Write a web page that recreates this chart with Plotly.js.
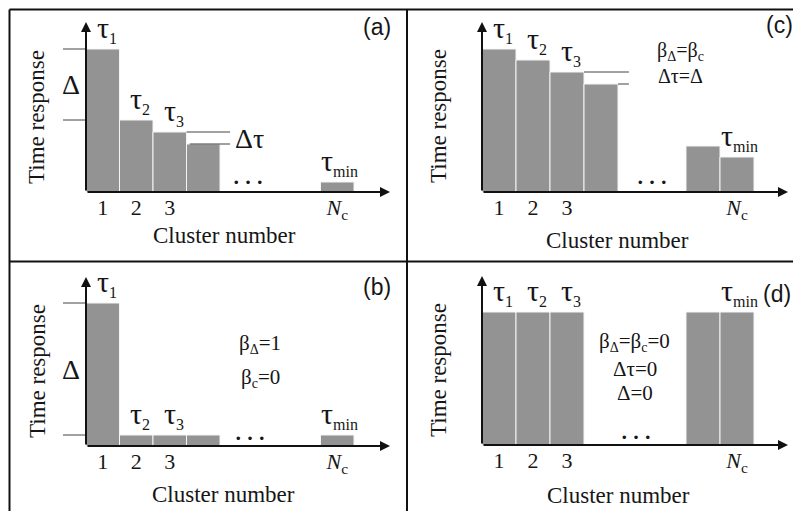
<!DOCTYPE html>
<html><head><meta charset="utf-8">
<script src="https://cdn.plot.ly/plotly-3.0.1.min.js"></script>
<style>html,body{margin:0;padding:0;background:#fff}</style>
</head><body><div id="chart" style="width:793px;height:511px"></div>
<script>
// ---- data ----
const clustersA = [1, 2, 3, 4, 8];
const timeA = [143, 72, 60, 48, 10];
const clustersB = [1, 2, 3, 4, 8];
const timeB = [143, 11, 11, 11, 11];
const clustersC = [1, 2, 3, 4, 7, 8];
const timeC = [143, 132, 120, 108, 46, 35];
const clustersD = [1, 2, 3, 7, 8];
const timeD = [133, 133, 133, 133, 133];
const tickVals = [1, 2, 3, 8];
const tickText = ['1', '2', '3', '<i>N</i><sub>c</sub>'];
const tauSubs = ['1', '2', '3', 'min'];
const panelTags = ['(a)', '(b)', '(c)', '(d)'];
const yTitle = 'Time response';
const xTitle = 'Cluster number';

// ---- geometry / style ----
const W = 793, H = 511;
const SERIF = '"Liberation Serif", "Times New Roman", serif';
const SANS = '"Liberation Sans", Arial, sans-serif';
const BAR = '#939393';
const INK = '#161616';
const px = (x, y) => ({x: x / W, y: 1 - y / H});
const tauText = (s) => 'τ<sub><span style="font-size:16px">' + s + '</span></sub>';

const panels = [
  {xa: 'x',  ya: 'y',  left: 86,  right: 390, top: 22,  bottom: 192, unit: 33.5, cl: clustersA, t: timeA,
   tag: panelTags[0], tagPos: [377, 27], yt: [37, 117], xt: [224, 235], dots: [249, 182]},
  {xa: 'x2', ya: 'y2', left: 86,  right: 390, top: 277, bottom: 446, unit: 33.5, cl: clustersB, t: timeB,
   tag: panelTags[1], tagPos: [377, 287], yt: [37, 371], xt: [223, 494], dots: [250, 438]},
  {xa: 'x3', ya: 'y3', left: 482, right: 788, top: 22,  bottom: 192, unit: 34, cl: clustersC, t: timeC,
   tag: panelTags[2], tagPos: [779, 25], yt: [438, 116], xt: [617, 240], dots: [652, 182]},
  {xa: 'x4', ya: 'y4', left: 482, right: 788, top: 276, bottom: 445, unit: 34, cl: clustersD, t: timeD,
   tag: panelTags[3], tagPos: [777, 294], yt: [438, 370], xt: [618, 495], dots: [636, 437]}
];

const data = [];
const layout = {
  width: W, height: H,
  margin: {l: 0, r: 0, t: 0, b: 0},
  paper_bgcolor: '#fff', plot_bgcolor: 'rgba(0,0,0,0)',
  showlegend: false,
  font: {family: SERIF, color: INK},
  annotations: [], shapes: []
};

const textAt = (t, x, y, size, family, extra) => {
  const p = px(x, y);
  return Object.assign({text: t, x: p.x, y: p.y, xref: 'paper', yref: 'paper', xanchor: 'center', yanchor: 'middle',
    showarrow: false, font: {family: family || SERIF, size: size, color: INK}}, extra || {});
};

panels.forEach((p) => {
  const xmax = 0.5 + (p.right - p.left) / p.unit;
  const ymax = p.bottom - p.top;
  const xk = p.xa === 'x' ? 'xaxis' : 'xaxis' + p.xa.slice(1);
  const yk = p.ya === 'y' ? 'yaxis' : 'yaxis' + p.ya.slice(1);
  layout[xk] = {
    domain: [p.left / W, p.right / W], range: [0.5, xmax], anchor: p.ya,
    showgrid: false, zeroline: false, showline: false, fixedrange: true,
    tickmode: 'array', tickvals: tickVals, ticktext: tickText, ticks: '',
    ticklabelstandoff: 0, tickfont: {family: SERIF, size: 22, color: INK}
  };
  layout[yk] = {
    domain: [1 - p.bottom / H, 1 - p.top / H], range: [0, ymax], anchor: p.xa,
    showgrid: false, zeroline: false, showline: false, showticklabels: false, fixedrange: true
  };
  data.push({
    type: 'bar', x: p.cl, y: p.t, width: 1, xaxis: p.xa, yaxis: p.ya,
    marker: {color: BAR, line: {color: '#f4f4f4', width: 1}},
    hoverinfo: 'skip'
  });
  // axes with arrows
  const arrow = {text: '', showarrow: true, arrowhead: 2, arrowsize: 1, arrowwidth: 2,
    arrowcolor: '#111', standoff: 0, startstandoff: 0, xref: p.xa, yref: p.ya, axref: p.xa, ayref: p.ya};
  layout.annotations.push(Object.assign({}, arrow, {x: xmax, y: 0, ax: 0.5, ay: 0}));
  layout.annotations.push(Object.assign({}, arrow, {x: 0.5, y: ymax, ax: 0.5, ay: 0}));
  // tau labels on bars 1,2,3 and last
  const idx = [0, 1, 2, p.cl.length - 1];
  idx.forEach((i, k) => {
    layout.annotations.push({
      text: tauText(tauSubs[k]), x: p.cl[i], y: p.t[i], xref: p.xa, yref: p.ya,
      xanchor: 'center', yanchor: 'bottom', yshift: 0, xshift: k === 3 ? 2 : 4, showarrow: false,
      font: {family: SERIF, size: 30, color: INK}
    });
  });
  layout.annotations.push(textAt(p.tag, p.tagPos[0], p.tagPos[1], 23, SANS));
  layout.annotations.push(textAt(yTitle, p.yt[0], p.yt[1], 23, SERIF, {textangle: -90}));
  layout.annotations.push(textAt(xTitle, p.xt[0], p.xt[1], 23, SERIF));
  layout.annotations.push(textAt('•  •  •', p.dots[0], p.dots[1], 13, SANS));
});

// guide lines
const guide = (xref, yref, x0, x1, y) => ({type: 'line', xref, yref, x0, x1, y0: y, y1: y,
  line: {color: '#444', width: 1}});
const lx = -23 / 304;
layout.shapes.push(guide('x domain', 'y', lx, 0, timeA[0]));
layout.shapes.push(guide('x domain', 'y', lx, 0, timeA[1]));
layout.shapes.push(guide('x2 domain', 'y2', lx, 0, timeB[0]));
layout.shapes.push(guide('x2 domain', 'y2', lx, 0, timeB[1]));
layout.shapes.push(guide('x', 'y', 3.5, 4.8, timeA[2]));
layout.shapes.push(guide('x', 'y', 3.6, 4.8, timeA[3]));
layout.shapes.push(guide('x3', 'y3', 3.5, 4.82, timeC[2]));
layout.shapes.push(guide('x3', 'y3', 4.5, 4.82, timeC[3]));

// Delta labels
const dl = {showarrow: false, xanchor: 'center', yanchor: 'middle', font: {family: SERIF, size: 28, color: INK}};
layout.annotations.push(Object.assign({text: 'Δ', x: -15 / 304, y: (timeA[0] + timeA[1]) / 2, xref: 'x domain', yref: 'y'}, dl));
layout.annotations.push(Object.assign({text: 'Δ', x: -15 / 304, y: (timeB[0] + timeB[1]) / 2, xref: 'x2 domain', yref: 'y2'}, dl));
layout.annotations.push(Object.assign({}, dl, {text: 'Δτ', x: 4.9, y: (timeA[2] + timeA[3]) / 2, xref: 'x', yref: 'y', xanchor: 'left'}));

// parameter texts
const sb = (s) => '<sub><span style="font-size:14px">' + s + '</span></sub>';
layout.annotations.push(textAt('β' + sb('Δ') + '=β' + sb('c') + '<br>Δτ=Δ', 680, 63, 20));
layout.annotations.push(textAt('β' + sb('Δ') + '=1', 260, 344, 21));
layout.annotations.push(textAt('β' + sb('c') + '=0', 260, 378, 21));
layout.annotations.push(textAt('β' + sb('Δ') + '=β' + sb('c') + '=0', 634, 342, 21));
layout.annotations.push(textAt('Δτ=0', 635, 369, 21));
layout.annotations.push(textAt('Δ=0', 635, 393, 21));

// panel borders
const bl = {color: '#111', width: 2};
const seg = (x0, y0, x1, y1) => { const a = px(x0, y0), b = px(x1, y1);
  return {type: 'line', xref: 'paper', yref: 'paper', x0: a.x, y0: a.y, x1: b.x, y1: b.y, line: bl}; };
layout.shapes.push(seg(9.5, 9.5, 793, 9.5));
layout.shapes.push(seg(9.5, 9.5, 9.5, 511));
layout.shapes.push(seg(407, 9.5, 407, 511));
layout.shapes.push(seg(9.5, 261.5, 793, 261.5));

Plotly.newPlot('chart', data, layout, {displayModeBar: false, staticPlot: true});
</script></body></html>
